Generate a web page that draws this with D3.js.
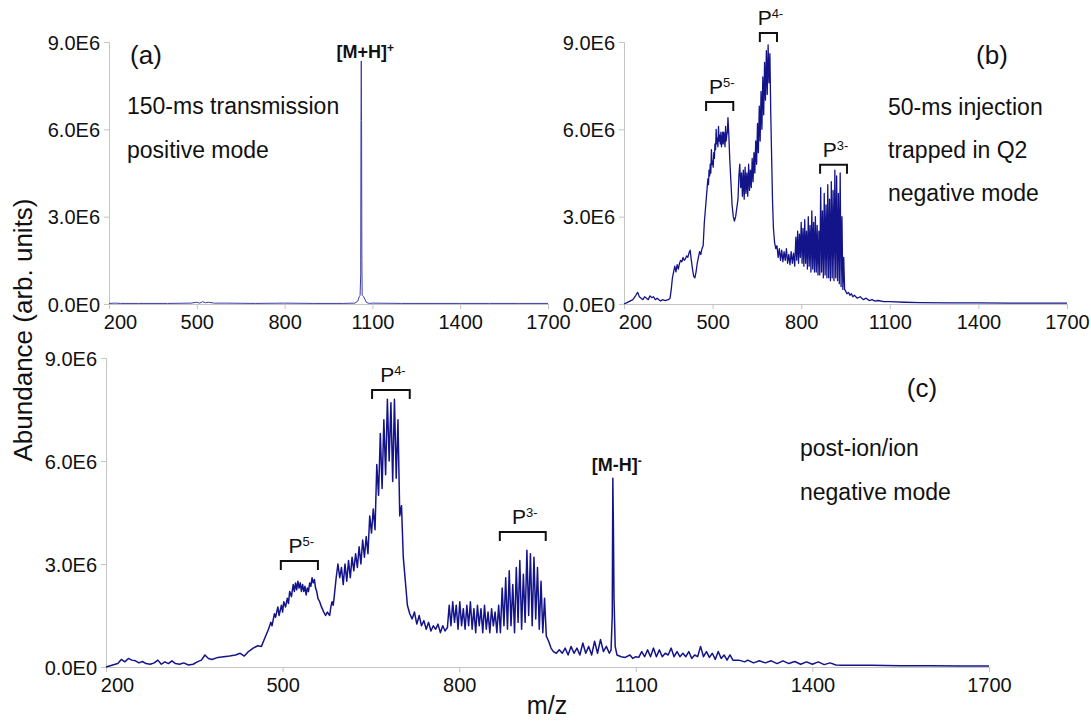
<!DOCTYPE html>
<html>
<head>
<meta charset="utf-8">
<script src="https://cdn.jsdelivr.net/npm/d3@7"></script>
<style>
  html, body { margin: 0; padding: 0; background: #fff; }
  svg { display: block; font-family: "Liberation Sans", Arial, sans-serif; }
</style>
</head>
<body>
<svg width="1091" height="723"></svg>
<script>
// ---- data (abundance in units of 1E6) ----
const xTicks = [200, 500, 800, 1100, 1400, 1700];
const yTicks = [0, 3, 6, 9];
const yTickLabels = ["0.0E0", "3.0E6", "6.0E6", "9.0E6"];

// (a) 150-ms transmission, positive mode
const spectrumA = [
  [200,0.02],[220,0.03],[240,0.02],[300,0.02],[400,0.02],[480,0.03],[500,0.06],[510,0.03],
  [520,0.08],[530,0.04],[540,0.06],[560,0.03],[600,0.03],[700,0.02],[800,0.03],[900,0.02],
  [1000,0.02],[1040,0.03],[1050,0.1],[1055,0.25],[1058,0.3],[1060,1.0],[1061,6.3],[1062,8.35],
  [1063,6.3],[1064,1.5],[1065,0.3],[1070,0.25],[1075,0.15],[1080,0.05],[1090,0.02],[1100,0.03],
  [1200,0.02],[1300,0.02],[1400,0.02],[1500,0.02],[1600,0.02],[1700,0.02]
];

// (b) 50-ms injection, trapped in Q2, negative mode
const spectrumB = [
  [200,0.0],[210,0.05],[220,0.1],[230,0.15],[240,0.3],[246,0.4],[252,0.25],[258,0.2],[264,0.15],
  [270,0.25],[276,0.2],[282,0.15],[288,0.28],[294,0.22],[300,0.25],[306,0.15],[312,0.2],[318,0.15],
  [324,0.1],[330,0.15],[340,0.12],[350,0.15],[356,0.2],[360,0.5],[364,0.9],[368,1.1],[372,1.3],
  [376,1.1],[380,1.35],[384,1.2],[388,1.4],[392,1.5],[396,1.45],[400,1.6],[404,1.5],[408,1.55],
  [412,1.65],[416,1.6],[420,1.75],[424,1.85],[428,1.5],[432,1.2],[436,0.95],[440,0.9],[444,1.1],
  [448,1.4],[452,1.6],[456,1.8],[460,1.7],[464,1.9],[468,2.0],[472,2.8],[476,3.3],[480,3.8],
  [484,4.3],[486,4.1],[488,4.6],[490,4.4],[492,4.8],[494,4.5],[496,5.3],[498,4.8],[500,4.9],
  [502,4.7],[504,5.2],[506,5.0],[508,5.5],[510,5.3],[512,6.0],[514,5.5],[516,5.7],[518,5.4],
  [520,6.1],[522,5.6],[524,5.8],[526,5.5],[528,5.9],[530,5.4],[532,5.6],[534,5.9],[536,5.5],
  [538,5.9],[540,5.7],[542,5.4],[544,6.1],[546,5.6],[548,5.8],[550,5.9],[552,6.4],
  [555,5.8],[558,5.0],[562,4.2],[566,3.4],[570,3.0],[574,2.85],[578,3.0],[582,3.3],[586,3.6],
  [589,4.4],[592,4.8],[595,4.0],[598,4.5],[601,3.7],[604,4.6],[607,3.6],[610,4.7],[613,3.8],
  [616,4.5],[619,3.7],[622,4.8],[625,3.9],[628,4.6],[631,4.0],[634,5.0],[637,4.2],[640,5.2],
  [643,4.5],[646,5.6],[649,4.8],[652,6.2],[655,5.2],[658,6.8],[661,5.6],[664,7.3],[667,6.0],
  [670,7.8],[673,6.5],[676,8.3],[679,7.0],[682,8.7],[685,7.2],[688,8.9],[691,7.6],[694,8.6],
  [697,6.5],[700,5.0],[703,3.5],[706,2.6],[710,2.1],[714,1.9],[718,2.0],[722,1.6],[726,1.9],
  [730,1.5],[734,1.85],[738,1.45],[742,1.8],[746,1.5],[750,1.9],[754,1.4],[758,1.7],[762,1.35],
  [766,1.8],[770,1.4],[774,1.75],[778,1.3],[782,2.3],[785,1.5],[788,2.5],[791,1.4],[794,2.4],
  [797,1.6],[800,2.8],[803,1.4],[806,2.6],[809,1.3],[812,2.9],[815,1.4],[818,2.5],[821,1.2],
  [824,3.0],[827,1.3],[830,2.7],[833,1.1],[836,3.2],[839,1.2],[842,2.8],[845,1.1],[848,3.0],
  [851,1.1],[854,2.7],[857,1.0],[860,2.5],[863,1.0],[866,4.0],[869,1.1],[872,3.2],[875,0.9],
  [878,3.8],[881,1.0],[884,3.4],[887,0.9],[890,4.1],[893,0.9],[896,3.6],[899,0.8],[902,4.2],
  [905,0.9],[908,3.9],[911,0.8],[914,4.6],[917,0.9],[920,4.4],[923,0.8],[926,3.8],[929,0.7],
  [932,4.5],[935,0.6],[938,3.0],[941,0.5],[944,1.6],[947,0.5],[950,0.45],[955,0.35],[960,0.4],
  [965,0.3],[970,0.35],[975,0.25],[980,0.3],[990,0.2],[1000,0.25],[1010,0.15],[1020,0.2],
  [1030,0.12],[1040,0.15],[1050,0.1],[1060,0.12],[1080,0.08],[1100,0.08],[1150,0.06],
  [1200,0.05],[1300,0.04],[1400,0.04],[1500,0.03],[1600,0.03],[1700,0.03]
];

// (c) post-ion/ion, negative mode
const spectrumC = [
  [200,0.0],[210,0.05],[220,0.1],[226,0.22],[232,0.15],[238,0.25],[244,0.2],[250,0.18],[256,0.12],
  [262,0.16],[268,0.1],[275,0.08],[282,0.12],[288,0.2],[294,0.08],[300,0.15],[306,0.1],[312,0.18],
  [318,0.1],[325,0.08],[332,0.12],[340,0.06],[348,0.08],[355,0.15],[362,0.2],[368,0.35],[374,0.25],
  [380,0.22],[390,0.28],[400,0.3],[410,0.32],[420,0.35],[428,0.4],[435,0.32],[442,0.45],[450,0.55],
  [458,0.62],[464,0.6],[470,0.85],[476,1.1],[480,1.3],[482,1.2],[486,1.55],[488,1.45],[492,1.75],
  [494,1.5],[496,1.65],[498,1.8],[500,1.6],[502,1.9],[505,1.75],[508,2.0],[510,1.85],[512,2.2],
  [515,2.05],[518,2.4],[520,2.2],[522,2.45],[524,2.25],[526,2.5],[528,2.3],[530,2.45],[532,2.2],
  [534,2.4],[536,2.2],[538,2.35],[540,2.1],[542,2.3],[544,2.2],[546,2.45],[548,2.35],[550,2.6],
  [552,2.45],[554,2.55],[556,2.3],[558,2.2],[560,2.0],[563,1.9],[566,1.75],[570,1.6],[573,1.5],
  [576,1.6],[580,1.5],[582,1.75],[584,1.9],[586,1.8],[588,2.1],[591,2.6],[594,3.0],[597,2.6],
  [600,2.9],[603,2.4],[606,3.0],[609,2.5],[612,3.1],[615,2.6],[618,3.2],[621,2.8],[624,3.3],
  [627,2.9],[630,3.5],[633,3.0],[636,3.7],[639,3.2],[642,3.8],[645,3.3],[648,4.4],[651,3.9],
  [654,4.6],[657,4.0],[660,5.9],[663,5.0],[666,6.8],[669,5.2],[672,7.2],[675,5.6],[678,7.8],
  [681,6.0],[684,7.7],[687,5.4],[690,7.8],[693,5.5],[696,7.2],[699,4.4],[702,4.7],[705,3.2],
  [708,2.6],[712,1.8],[716,1.55],[720,1.4],[724,1.6],[728,1.25],[732,1.5],[736,1.2],[740,1.35],
  [744,1.1],[748,1.3],[752,1.05],[756,1.2],[760,1.1],[764,1.25],[768,1.0],[772,1.2],[776,1.05],
  [780,1.15],[783,1.8],[786,1.2],[789,1.9],[792,1.3],[795,1.8],[798,1.1],[801,1.9],[804,1.2],
  [807,1.7],[810,1.1],[813,1.8],[816,1.2],[819,1.9],[822,1.1],[825,1.7],[828,1.0],[831,1.8],
  [834,1.2],[837,1.7],[840,1.0],[843,1.8],[846,1.1],[849,1.6],[852,1.0],[855,1.7],[858,1.2],
  [861,1.6],[864,1.0],[867,1.8],[870,1.0],[873,2.3],[876,1.2],[879,2.6],[882,1.1],[885,2.8],
  [888,1.2],[891,2.4],[894,1.0],[897,2.9],[900,1.3],[903,3.1],[906,1.1],[909,2.7],[912,1.3],
  [915,3.4],[918,1.5],[921,3.3],[924,1.2],[927,3.2],[930,1.4],[933,2.9],[936,1.1],[939,2.5],
  [942,1.0],[945,2.0],[948,0.9],[952,0.75],[956,0.55],[960,0.45],[965,0.4],[970,0.5],[975,0.4],
  [980,0.55],[985,0.35],[990,0.6],[995,0.4],[1000,0.55],[1005,0.35],[1010,0.7],[1015,0.4],
  [1020,0.6],[1025,0.35],[1030,0.75],[1035,0.4],[1040,0.8],[1045,0.45],[1050,0.6],[1055,0.4],
  [1058,0.5],[1060,1.5],[1061,5.5],[1062,4.0],[1063,2.0],[1065,0.6],[1068,0.35],[1075,0.3],
  [1082,0.28],[1090,0.35],[1095,0.25],[1100,0.3],[1105,0.28],[1110,0.45],[1115,0.3],[1120,0.5],
  [1125,0.3],[1130,0.55],[1135,0.3],[1140,0.5],[1145,0.3],[1150,0.4],[1155,0.35],[1160,0.55],
  [1165,0.3],[1170,0.45],[1175,0.3],[1180,0.4],[1185,0.3],[1190,0.45],[1195,0.25],[1200,0.35],
  [1205,0.3],[1210,0.6],[1215,0.3],[1220,0.45],[1225,0.28],[1230,0.4],[1235,0.22],[1240,0.45],
  [1245,0.25],[1250,0.35],[1255,0.2],[1260,0.35],[1265,0.2],[1275,0.2],[1285,0.15],[1290,0.2],
  [1300,0.12],[1310,0.18],[1320,0.12],[1330,0.18],[1340,0.1],[1350,0.18],[1360,0.1],[1370,0.16],
  [1380,0.08],[1390,0.15],[1400,0.08],[1410,0.15],[1420,0.07],[1430,0.12],[1440,0.06],
  [1450,0.05],[1500,0.05],[1550,0.04],[1600,0.04],[1650,0.03],[1700,0.03]
];

// bracketed groups: [charge, m/z from, m/z to, height (1E6)]
const bracketsB = [["5-", 478, 570, 6.94], ["4-", 660, 718, 9.31], ["3-", 864, 955, 4.78]];
const bracketsC = [["5-", 497, 560, 3.09], ["4-", 652, 716, 8.07], ["3-", 869, 947, 3.93]];

// ---- layout ----
const svg = d3.select("svg");
const lineColor = "#14148a";
const axisColor = "#c4c4c4";

const panels = [
  {id: "(a)", data: spectrumA, x0: 109, x1: 548, yBot: 304, yTop: 42, stroke: "#3c3ca6", sw: 1.0,
   tag: [146, 55], notes: ["150-ms transmission", "positive mode"], noteX: 127, noteY: [106, 150],
   ion: {text: "[M+H]", sup: "+", mz: 1062, y: 52}, brackets: []},
  {id: "(b)", data: spectrumB, x0: 624, x1: 1067, yBot: 304, yTop: 42, stroke: lineColor, sw: 1.3,
   tag: [992, 55], notes: ["50-ms injection", "trapped in Q2", "negative mode"], noteX: 888,
   noteY: [107, 150, 193], ion: null, brackets: bracketsB},
  {id: "(c)", data: spectrumC, x0: 106, x1: 989, yBot: 667, yTop: 358, stroke: lineColor, sw: 1.5,
   tag: [922, 388], notes: ["post-ion/ion", "negative mode"], noteX: 800, noteY: [448, 492],
   ion: {text: "[M-H]", sup: "-", mz: 1061, y: 465}, brackets: bracketsC}
];

function drawPanel(p) {
  const x = d3.scaleLinear().domain([200, 1700]).range([p.x0, p.x1]);
  const y = d3.scaleLinear().domain([0, 9]).range([p.yBot, p.yTop]);
  const g = svg.append("g");

  // axes
  const ax = g.append("g").attr("transform", `translate(0,${p.yBot})`)
    .call(d3.axisBottom(x).tickValues(xTicks).tickSize(5).tickPadding(6).tickFormat(d3.format("d")));
  const ay = g.append("g").attr("transform", `translate(${p.x0},0)`)
    .call(d3.axisLeft(y).tickValues(yTicks).tickSize(5).tickPadding(4)
      .tickFormat((d, i) => yTickLabels[i]));
  [ax, ay].forEach(a => {
    a.selectAll("path, line").attr("stroke", axisColor);
    a.selectAll("text").attr("fill", "#111").style("font-size", "20px");
  });
  ay.selectAll("text").attr("dy", "0.35em");
  // first x label is pushed right, off the y labels
  ax.selectAll("text").filter(d => d === 200).attr("dx", 11);

  // spectrum
  g.append("path").datum(p.data)
    .attr("fill", "none").attr("stroke", p.stroke).attr("stroke-width", p.sw)
    .attr("stroke-linejoin", "round")
    .attr("d", d3.line().x(d => x(d[0])).y(d => y(d[1])));

  // panel tag and notes
  g.append("text").attr("x", p.tag[0]).attr("y", p.tag[1]).attr("dy", "0.35em")
    .attr("text-anchor", "middle").style("font-size", "26px").attr("fill", "#111").text(p.id);
  p.notes.forEach((t, i) => {
    g.append("text").attr("x", p.noteX).attr("y", p.noteY[i]).attr("dy", "0.35em")
      .style("font-size", "23px").attr("fill", "#111").text(t);
  });

  if (p.ion) {
    const t = g.append("text").attr("x", x(p.ion.mz) + 4).attr("y", p.ion.y).attr("dy", "0.35em")
      .attr("text-anchor", "middle").style("font-size", "18px").style("font-weight", "bold")
      .attr("fill", "#111");
    t.append("tspan").text(p.ion.text);
    t.append("tspan").attr("dy", "-0.5em").style("font-size", "12px").text(p.ion.sup);
  }

  p.brackets.forEach(b => {
    const xa = x(b[1]), xb = x(b[2]), yt = y(b[3]);
    g.append("path")
      .attr("d", `M${xa},${yt + 9}V${yt}H${xb}V${yt + 9}`)
      .attr("fill", "none").attr("stroke", "#111").attr("stroke-width", 2);
    const t = g.append("text").attr("x", (xa + xb) / 2 + 2).attr("y", yt - 8)
      .attr("text-anchor", "middle").style("font-size", "21px").attr("fill", "#111");
    t.append("tspan").text("P");
    t.append("tspan").attr("dy", "-0.55em").style("font-size", "13px").text(b[0]);
  });
}

panels.forEach(drawPanel);

// shared axis titles
svg.append("text").attr("transform", "translate(32,330) rotate(-90)")
  .attr("text-anchor", "middle").style("font-size", "26px").attr("fill", "#111")
  .text("Abundance (arb. units)");
svg.append("text").attr("x", 547).attr("y", 714).attr("text-anchor", "middle")
  .style("font-size", "25px").attr("fill", "#111").text("m/z");
</script>
</body>
</html>
